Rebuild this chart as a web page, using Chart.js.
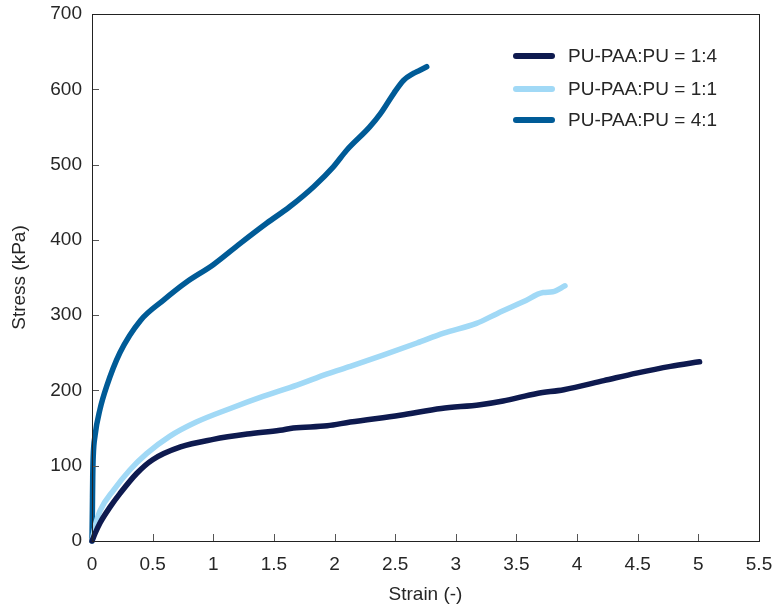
<!DOCTYPE html>
<html>
<head>
<meta charset="utf-8">
<script src="https://cdn.jsdelivr.net/npm/chart.js@4"></script>
<style>
html,body{margin:0;padding:0;background:#fff;}
#wrap{width:777px;height:611px;}
</style>
</head>
<body>
<div id="wrap"><canvas id="c" width="777" height="611"></canvas></div>
<script>
// ---- data ----
const seriesLabels = ["PU-PAA:PU = 1:4", "PU-PAA:PU = 1:1", "PU-PAA:PU = 4:1"];

const strain14 = [0, 0.025, 0.066, 0.148, 0.23, 0.37, 0.5, 0.73, 1.0, 1.28, 1.55, 1.66, 1.94, 2.13, 2.54, 2.88, 3.2, 3.39, 3.67, 3.89, 4.22, 4.49, 4.77, 5.01];
const stress14 = [0, 10, 24, 45, 63, 90, 108, 125, 135, 142, 147, 150, 153, 158, 167, 176, 181, 186, 196, 201, 213, 223, 232, 238];

const strain11 = [0, 0.025, 0.066, 0.18, 0.31, 0.45, 0.64, 0.86, 1.14, 1.41, 1.69, 1.94, 2.13, 2.40, 2.68, 2.90, 3.17, 3.34, 3.56, 3.72, 3.80, 3.90];
const stress11 = [0, 19, 40, 68, 94, 116, 139, 158, 176, 192, 207, 222, 232, 247, 263, 276, 289, 302, 318, 330, 331, 339];

const strain41 = [0, 0.003, 0.006, 0.01, 0.025, 0.066, 0.12, 0.23, 0.40, 0.59, 0.78, 1.0, 1.22, 1.44, 1.63, 1.83, 1.99, 2.10, 2.29, 2.38, 2.49, 2.57, 2.65, 2.70, 2.76];
const stress41 = [0, 40, 85, 112, 140, 175, 205, 250, 293, 320, 344, 367, 395, 422, 444, 471, 497, 519, 550, 568, 595, 612, 621, 625, 630];

const xTicks = [0, 0.5, 1, 1.5, 2, 2.5, 3, 3.5, 4, 4.5, 5, 5.5];
const yTicks = [0, 100, 200, 300, 400, 500, 600, 700];

const colors = ["#0e1a4f", "#a1d9f6", "#005b97"];

function pts(xs, ys){ return xs.map((x,i)=>({x:x, y:ys[i]})); }

const FONT = "'Liberation Sans', Arial, sans-serif";
const TXT = "#262626";

function noPad(s){ s.paddingLeft = 0; s.paddingRight = 0; s.paddingTop = 0; s.paddingBottom = 0; }

const framePlugin = {
  id: 'frame',
  afterDraw(chart){
    const {ctx, chartArea:a, scales} = chart;
    ctx.save();
    // ticks (inward)
    ctx.strokeStyle = "#555";
    ctx.lineWidth = 1;
    ctx.beginPath();
    xTicks.forEach(v=>{
      const px = Math.round(scales.x.getPixelForValue(v)) + 0.5;
      ctx.moveTo(px, a.bottom); ctx.lineTo(px, a.bottom - 7);
    });
    yTicks.forEach(v=>{
      const py = Math.round(scales.y.getPixelForValue(v)) + 0.5;
      ctx.moveTo(a.left, py); ctx.lineTo(a.left + 7, py);
    });
    ctx.stroke();
    // frame
    ctx.strokeStyle = "#222";
    ctx.lineWidth = 1;
    ctx.strokeRect(Math.round(a.left)+0.5, Math.round(a.top)+0.5, Math.round(a.right-a.left), Math.round(a.bottom-a.top));
    // legend
    ctx.font = "19px " + FONT;
    ctx.textBaseline = "middle";
    ctx.textAlign = "left";
    ctx.lineCap = "round";
    const rows = [56, 89, 120];
    chart.data.datasets.forEach((ds,i)=>{
      ctx.strokeStyle = ds.borderColor;
      ctx.lineWidth = 6;
      ctx.beginPath();
      ctx.moveTo(516, rows[i]); ctx.lineTo(552, rows[i]);
      ctx.stroke();
      ctx.fillStyle = TXT;
      ctx.fillText(ds.label, 568, rows[i] + 1);
    });
    ctx.restore();
  }
};

new Chart(document.getElementById('c'), {
  type: 'scatter',
  data: {
    datasets: [
      {label: seriesLabels[0], data: pts(strain14, stress14), borderColor: colors[0], backgroundColor: colors[0]},
      {label: seriesLabels[1], data: pts(strain11, stress11), borderColor: colors[1], backgroundColor: colors[1]},
      {label: seriesLabels[2], data: pts(strain41, stress41), borderColor: colors[2], backgroundColor: colors[2]}
    ].map(d=>Object.assign(d, {showLine:true, pointRadius:0, borderWidth:5.5, cubicInterpolationMode:'monotone', borderCapStyle:'round', borderJoinStyle:'round', clip:8}))
  },
  options: {
    responsive: false,
    animation: false,
    layout: {padding: {top: 14, right: 18, left: 0, bottom: 0}},
    plugins: {legend: {display: false}, tooltip: {enabled: false}},
    scales: {
      x: {
        type: 'linear', min: 0, max: 5.5,
        afterFit(s){ s.height = 70; noPad(s); },
        afterBuildTicks(s){ s.ticks = xTicks.map(v=>({value:v})); },
        grid: {display: false, drawTicks: false},
        border: {display: false},
        ticks: {padding: 12, color: TXT, font: {family: FONT, size: 19}, maxRotation: 0, autoSkip: false,
                callback: v => String(v)},
        title: {display: true, text: 'Strain (-)', color: TXT, font: {family: FONT, size: 19}, padding: {top: 5, bottom: 5}}
      },
      y: {
        type: 'linear', min: 0, max: 700,
        afterFit(s){ s.width = 92; noPad(s); },
        afterBuildTicks(s){ s.ticks = yTicks.map(v=>({value:v})); },
        grid: {display: false, drawTicks: false},
        border: {display: false},
        ticks: {padding: 10, color: TXT, font: {family: FONT, size: 19}, autoSkip: false,
                callback: v => String(v)},
        title: {display: true, text: 'Stress (kPa)', color: TXT, font: {family: FONT, size: 19}, padding: {top: 8, bottom: 8}}
      }
    }
  },
  plugins: [framePlugin]
});
</script>
</body>
</html>
